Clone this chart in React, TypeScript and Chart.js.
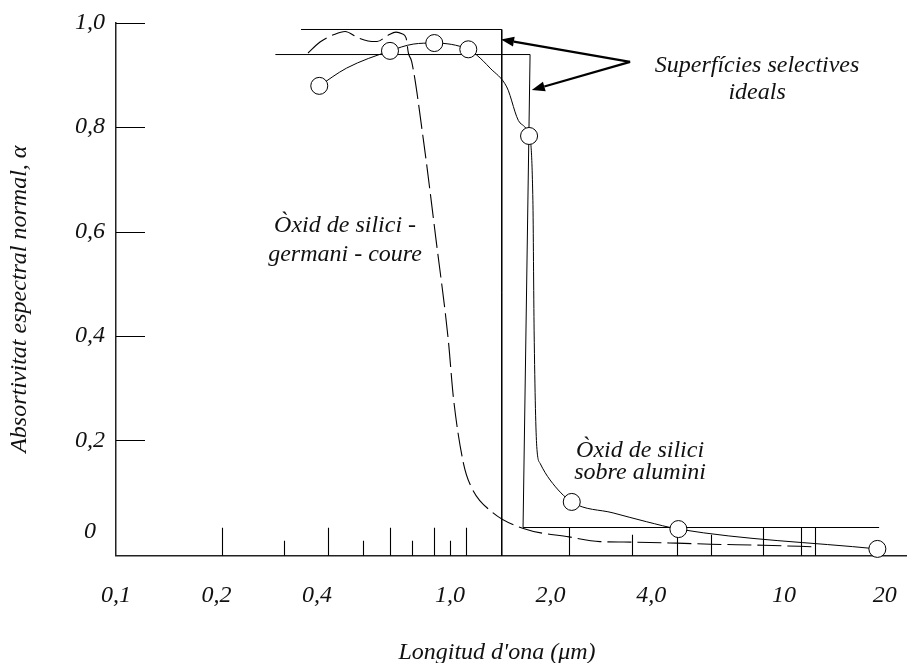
import { useEffect, useRef } from "react";
import { Chart, registerables } from "chart.js";

Chart.register(...registerables);

// ---- axis ticks ----
const xTickValues = [0.1, 0.2, 0.4, 1, 2, 4, 10, 20];
const xTickLabels = ["0,1", "0,2", "0,4", "1,0", "2,0", "4,0", "10", "20"];
const yTickValues = [0.025, 0.2, 0.4, 0.6, 0.8, 1.0];
const yTickLabels = ["0", "0,2", "0,4", "0,6", "0,8", "1,0"];
const yTickMarks = [0.2, 0.4, 0.6, 0.8, 1.0];
const xTallTicks = [0.207, 0.43, 0.661, 0.894, 1.114, 2.27, 8.65, 11.2, 12.4];
const xMidTicks = [3.51, 4.78, 6.03];
const xShortTicks = [0.318, 0.549, 0.768, 1.0];

// ---- ideal selective surfaces ----
const ideal1X = [0.358, 1.428, 1.428];
const ideal1Y = [0.987, 0.987, -0.021];
const ideal2X = [0.3, 1.736, 1.654, 19.25];
const ideal2Y = [0.939, 0.939, 0.033, 0.033];

// ---- silicon oxide on aluminium ----
const aluMarkX = [0.406, 0.661, 0.897, 1.134, 1.724, 2.314, 4.826, 19.02];
const aluMarkY = [0.879, 0.946, 0.961, 0.949, 0.783, 0.082, 0.03, -0.008];
const aluCurveX = [0.406, 0.49, 0.661, 0.776, 0.897, 1.134, 1.202, 1.318, 1.478, 1.62, 1.724, 1.77, 1.785, 1.818, 1.86, 1.993, 2.314, 3.076, 3.88, 4.826, 19.02];
const aluCurveY = [0.879, 0.913, 0.946, 0.959, 0.961, 0.949, 0.938, 0.913, 0.877, 0.808, 0.783, 0.66, 0.411, 0.188, 0.156, 0.124, 0.082, 0.061, 0.044, 0.03, -0.008];

// ---- silicon oxide - germanium - copper (dashed) ----
const geCurveX = [0.3757, 0.408, 0.4524, 0.485, 0.5304, 0.568, 0.6045, 0.6523, 0.689, 0.718, 0.7385, 0.7502, 0.768, 0.832, 0.908, 0.988, 1.023, 1.096, 1.161, 1.333, 1.658, 2.272, 2.813, 3.507, 4.781, 6.033, 8.65, 12.44];
const geCurveY = [0.942, 0.963, 0.978, 0.983, 0.971, 0.965, 0.964, 0.976, 0.982, 0.979, 0.971, 0.942, 0.925, 0.776, 0.584, 0.392, 0.283, 0.157, 0.109, 0.063, 0.031, 0.015, 0.006, 0.005, 0.003, 0.001, -0.001, -0.004];

// ---- annotations ----
const noteLines = [
  ["Superfícies selectives", "ideals"],
  ["Òxid de silici -", "germani - coure"],
  ["Òxid de silici", "sobre alumini"],
];
const noteX = [8.3, 0.485, 3.706];
const noteY = [
  [0.906, 0.853],
  [0.599, 0.543],
  [0.168, 0.125],
];
const arrowFromX = 3.46;
const arrowFromY = 0.925;
const arrowToX = [1.421, 1.757];
const arrowToY = [0.968, 0.871];

const xTitle = "Longitud d'ona (\u03bcm)";
const yTitle = "Absortivitat espectral normal, \u03b1";

const FONT = 'italic 24px "Liberation Serif"';

const pts = (xs: number[], ys: number[]) => xs.map((x, i) => ({ x, y: ys[i] }));

const decorPlugin = {
  id: "decor",
  beforeDatasetsDraw(chart: any) {
    const { ctx, scales, chartArea } = chart;
    const xs = scales.x;
    const ys = scales.y;
    ctx.save();
    ctx.strokeStyle = "#000";
    ctx.lineWidth = 1.1;
    ctx.beginPath();
    yTickMarks.forEach((v) => {
      const py = Math.round(ys.getPixelForValue(v)) + 0.5;
      ctx.moveTo(chartArea.left, py);
      ctx.lineTo(chartArea.left + 29, py);
    });
    const bottom = chartArea.bottom;
    const drawX = (arr: number[], len: number) => {
      arr.forEach((v) => {
        const px = Math.round(xs.getPixelForValue(v)) + 0.5;
        ctx.moveTo(px, bottom);
        ctx.lineTo(px, bottom - len);
      });
    };
    drawX(xTallTicks, 28);
    drawX(xMidTicks, 21);
    drawX(xShortTicks, 15);
    ctx.stroke();
    ctx.restore();
  },
  afterDatasetsDraw(chart: any) {
    const { ctx, scales, chartArea } = chart;
    const xs = scales.x;
    const ys = scales.y;
    ctx.save();
    // arrows
    const fx = xs.getPixelForValue(arrowFromX);
    const fy = ys.getPixelForValue(arrowFromY);
    ctx.strokeStyle = "#000";
    ctx.fillStyle = "#000";
    ctx.lineWidth = 2.2;
    arrowToX.forEach((tx, i) => {
      const px = xs.getPixelForValue(tx);
      const py = ys.getPixelForValue(arrowToY[i]);
      const ang = Math.atan2(py - fy, px - fx);
      const headLen = 13;
      const headW = 5;
      const bx = px - headLen * Math.cos(ang);
      const by = py - headLen * Math.sin(ang);
      ctx.beginPath();
      ctx.moveTo(fx, fy);
      ctx.lineTo(bx, by);
      ctx.stroke();
      ctx.beginPath();
      ctx.moveTo(px, py);
      ctx.lineTo(bx + headW * Math.sin(ang), by - headW * Math.cos(ang));
      ctx.lineTo(bx - headW * Math.sin(ang), by + headW * Math.cos(ang));
      ctx.closePath();
      ctx.fill();
    });
    // annotations
    ctx.font = FONT;
    ctx.fillStyle = "#111";
    ctx.textAlign = "center";
    ctx.textBaseline = "alphabetic";
    noteLines.forEach((lines, i) => {
      const px = xs.getPixelForValue(noteX[i]);
      lines.forEach((t, j) => {
        ctx.fillText(t, px, ys.getPixelForValue(noteY[i][j]));
      });
    });
    // axis titles
    ctx.fillText(xTitle, (chartArea.left + chartArea.right) / 2 - 14, 659);
    ctx.translate(26, (chartArea.top + chartArea.bottom) / 2 + 10);
    ctx.rotate(-Math.PI / 2);
    ctx.fillText(yTitle, 0, 0);
    ctx.restore();
  },
};

export default function App() {
  const ref = useRef<HTMLCanvasElement | null>(null);
  useEffect(() => {
    if (!ref.current) return;
    const tickFont = { family: "Liberation Serif", style: "italic" as const, size: 24 };
    const chart = new Chart(ref.current, {
      type: "scatter",
      data: {
        datasets: [
          {
            data: pts(aluMarkX, aluMarkY),
            showLine: false,
            pointRadius: 8.5,
            pointBorderWidth: 1,
            pointBackgroundColor: "#fff",
            pointBorderColor: "#000",
            order: 0,
            clip: false,
          },
          {
            data: pts(aluCurveX, aluCurveY),
            showLine: true,
            borderColor: "#000",
            borderWidth: 1,
            pointRadius: 0,
            cubicInterpolationMode: "monotone",
            order: 1,
            clip: false,
          },
          {
            data: pts(geCurveX, geCurveY),
            showLine: true,
            borderColor: "#000",
            borderWidth: 1.1,
            borderDash: [24, 6],
            pointRadius: 0,
            cubicInterpolationMode: "monotone",
            order: 2,
            clip: false,
          },
          {
            data: pts(ideal1X, ideal1Y),
            showLine: true,
            borderColor: "#000",
            borderWidth: 1,
            pointRadius: 0,
            tension: 0,
            order: 3,
            clip: false,
          },
          {
            data: pts(ideal2X, ideal2Y),
            showLine: true,
            borderColor: "#000",
            borderWidth: 1,
            pointRadius: 0,
            tension: 0,
            order: 4,
            clip: false,
          },
        ] as any,
      },
      options: {
        responsive: false,
        animation: false,
        layout: { padding: { top: 22.7, right: 10, left: 0, bottom: 0 } },
        plugins: { legend: { display: false }, tooltip: { enabled: false } },
        scales: {
          x: {
            type: "logarithmic",
            min: 0.1,
            max: 23.17,
            bounds: "data",
            grid: { display: false, drawTicks: false },
            border: { display: true, color: "#222", width: 1.5 },
            ticks: {
              autoSkip: false,
              maxRotation: 0,
              minRotation: 0,
              padding: 26,
              color: "#111",
              font: tickFont,
              callback: (_v: any, i: number) => xTickLabels[i],
            },
            afterBuildTicks: (s: any) => {
              s.ticks = xTickValues.map((v) => ({ value: v }));
            },
            afterFit: (s: any) => {
              s.height = 107.3;
              s.paddingLeft = 0;
              s.paddingRight = 0;
            },
          },
          y: {
            type: "linear",
            min: -0.021,
            max: 1.0,
            bounds: "data",
            grid: { display: false, drawTicks: false },
            border: { display: true, color: "#222", width: 1.5 },
            ticks: {
              crossAlign: "center",
              padding: 11,
              color: "#111",
              font: tickFont,
              callback: (_v: any, i: number) => yTickLabels[i],
            },
            afterBuildTicks: (s: any) => {
              s.ticks = yTickValues.map((v) => ({ value: v }));
            },
            afterFit: (s: any) => {
              s.width = 116;
              s.paddingTop = 0;
              s.paddingBottom = 0;
            },
          },
        },
      } as any,
      plugins: [decorPlugin],
    });
    return () => chart.destroy();
  }, []);
  return (
    <div style={{ position: "fixed", left: 0, top: 0, width: 916, height: 663, background: "#fff" }}>
      <canvas ref={ref} width={916} height={663} style={{ width: 916, height: 663, display: "block" }} />
    </div>
  );
}
